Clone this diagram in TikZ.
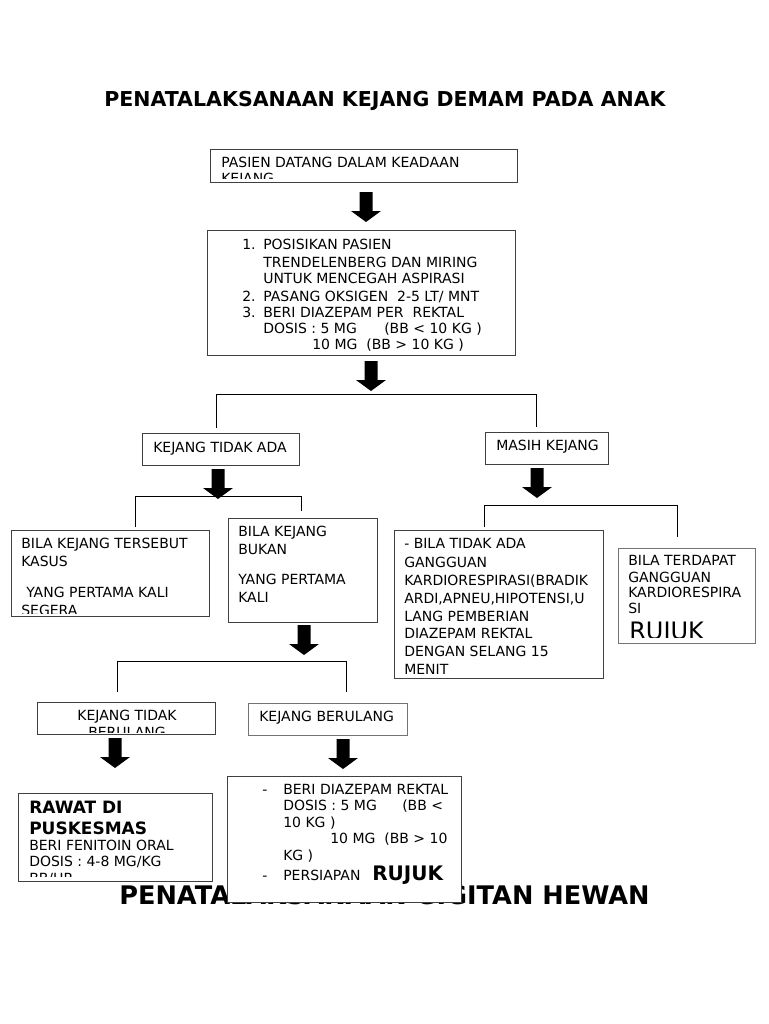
\documentclass[tikz,border=0pt]{standalone}
\usepackage{fontspec}
\setmainfont{DejaVu Sans}
\begin{document}
\begin{tikzpicture}[x=0.75pt,y=-0.75pt,
  box/.style 2 args={draw=black!75, line width=0.9pt, fill=white, rectangle, inner sep=0pt, anchor=north west,
     minimum width=#1*0.75pt, minimum height=#2*0.75pt},
  lbox/.style 2 args={box={#1}{#2}, draw=black!55},
  txt/.style={anchor=base west, inner sep=0pt, font=\fontsize{10.5}{12}\selectfont},
  ctxt/.style={txt, anchor=base},
  bld/.style={anchor=base west, inner sep=0pt, font=\bfseries\fontsize{12.75}{14}\selectfont},
  ttl/.style={anchor=base west, inner sep=0pt, font=\bfseries\fontsize{15.4}{18}\selectfont},
  bttl/.style={anchor=base west, inner sep=0pt, font=\bfseries\fontsize{19.2}{22}\selectfont},
  conn/.style={draw=black, line width=0.7pt},
  blockarrow/.pic={\fill[black] (-6.5,0) -- (6.5,0) -- (6.5,19) -- (15,19) -- (0,30) -- (-15,19) -- (-6.5,19) -- cycle;}
]
\fill[white] (0,0) rectangle (768,1024);
\useasboundingbox (0,0) rectangle (768,1024);

% title
\node[ttl] (title) at (104,106) {PENATALAKSANAAN KEJANG DEMAM PADA ANAK};

% box 1
\node[box={307}{33}] (b1) at (210,149) {};
\node[txt] (b1l1) at (221,167) {PASIEN DATANG DALAM KEADAAN};
\begin{scope}
  \clip (212,150) rectangle (515,178);
  \node[txt] (b1l2) at (221,183) {KEJANG};
\end{scope}

\pic (a1) at (366,192) {blockarrow};

% box 2
\node[box={308}{125}] (b2) at (207,230) {};
\node[txt] (b2n1) at (242,249) {1.};
\node[txt] (b2l1) at (263,249) {POSISIKAN PASIEN};
\node[txt] (b2l2) at (263,267) {TRENDELENBERG DAN MIRING};
\node[txt] (b2l3) at (263,283) {UNTUK MENCEGAH ASPIRASI};
\node[txt] (b2n2) at (242,301) {2.};
\node[txt] (b2l4) at (263,301) {PASANG OKSIGEN\ \ 2-5 LT/ MNT};
\node[txt] (b2n3) at (242,317) {3.};
\node[txt] (b2l5) at (263,317) {BERI DIAZEPAM PER\ \ REKTAL};
\node[txt] (b2l6) at (263,333) {DOSIS : 5 MG};
\node[txt] (b2l6b) at (384,333) {(BB < 10 KG )};
\node[txt] (b2l7) at (312,349) {10 MG\ \ (BB > 10 KG )};

\pic (a2) at (371,361) {blockarrow};

% branch 1
\coordinate (s1l) at (216,428);
\coordinate (s1r) at (536,427);
\draw[conn] (s1l) -- (216,394) -- (536,394) -- (s1r);

% box 3, 4
\node[box={157}{32}] (b3) at (142,433) {};
\node[txt] (b3l1) at (153,452) {KEJANG TIDAK ADA};
\node[box={123}{32}] (b4) at (485,432) {};
\node[txt] (b4l1) at (496,450) {MASIH KEJANG};

\pic (a3) at (218,469) {blockarrow};
\pic (a4) at (537,468) {blockarrow};

% branch 2
\coordinate (s2l) at (135,527);
\coordinate (s2r) at (301,511);
\draw[conn] (s2l) -- (135,496) -- (301,496) -- (s2r);

% branch 3
\coordinate (s3l) at (484,527);
\coordinate (s3r) at (677,537);
\draw[conn] (s3l) -- (484,505) -- (677,505) -- (s3r);

% box 5
\node[box={198}{86}] (b5) at (11,530) {};
\node[txt] (b5l1) at (21,548) {BILA KEJANG TERSEBUT};
\node[txt] (b5l2) at (21,566) {KASUS};
\node[txt] (b5l3) at (26,597) {YANG PERTAMA KALI};
\begin{scope}
  \clip (13,531) rectangle (207,613);
  \node[txt] (b5l4) at (21,615) {SEGERA};
\end{scope}

% box 6
\node[box={149}{104}] (b6) at (228,518) {};
\node[txt] (b6l1) at (238,536) {BILA KEJANG};
\node[txt] (b6l2) at (238,554) {BUKAN};
\node[txt] (b6l3) at (238,584) {YANG PERTAMA};
\node[txt] (b6l4) at (238,602) {KALI};

% box 7
\node[box={209}{148}] (b7) at (394,530) {};
\node[txt] (b7l1) at (404,548) {- BILA TIDAK ADA};
\node[txt] (b7l2) at (404,567) {GANGGUAN};
\node[txt] (b7l3) at (404,585) {KARDIORESPIRASI(BRADIK};
\node[txt] (b7l4) at (404,603) {ARDI,APNEU,HIPOTENSI,U};
\node[txt] (b7l5) at (404,621) {LANG PEMBERIAN};
\node[txt] (b7l6) at (404,638) {DIAZEPAM REKTAL};
\node[txt] (b7l7) at (404,656) {DENGAN SELANG 15};
\node[txt] (b7l8) at (404,674) {MENIT};

% box 8
\node[lbox={137}{95}] (b8) at (618,548) {};
\node[txt] (b8l1) at (628,565) {BILA TERDAPAT};
\node[txt] (b8l2) at (628,582) {GANGGUAN};
\node[txt] (b8l3) at (628,597) {KARDIORESPIRA};
\node[txt] (b8l4) at (628,613) {SI};
\begin{scope}
  \clip (620,615) rectangle (753,637);
  \node[txt, font=\fontsize{18}{20}\selectfont] (b8l5) at (629,639) {RUJUK};
\end{scope}

\pic (a5) at (304,625) {blockarrow};

% branch 4
\coordinate (s4l) at (117,692);
\coordinate (s4r) at (346,692);
\draw[conn] (s4l) -- (117,661) -- (346,661) -- (s4r);

% box 9, 10
\node[box={178}{32}] (b9) at (37,702) {};
\node[ctxt] (b9l1) at (127,720) {KEJANG TIDAK};
\begin{scope}
  \clip (39,703) rectangle (213,732);
  \node[ctxt] (b9l2) at (127,737) {BERULANG};
\end{scope}
\node[lbox={159}{32}] (b10) at (248,703) {};
\node[txt] (b10l1) at (259,721) {KEJANG BERULANG};

\pic (a6) at (115,738) {blockarrow};
\pic (a7) at (343,739) {blockarrow};

% box 11
\node[box={194}{88}] (b11) at (18,793) {};
\node[bld] (b11l1) at (29,813) {RAWAT DI};
\node[bld] (b11l2) at (29,834) {PUSKESMAS};
\node[txt] (b11l3) at (29,850) {BERI FENITOIN ORAL};
\node[txt] (b11l4) at (29,866) {DOSIS : 4-8 MG/KG};
\begin{scope}
  \clip (20,794) rectangle (210,876);
  \node[txt] (b11l5) at (29,883) {BB/HR};
\end{scope}

% bottom title (partly covered)
\node[bttl] (title2) at (119,904) {PENATALAKSANAAN GIGITAN HEWAN};

% box 12
\node[box={234}{126}] (b12) at (227,776) {};
\node[txt] (b12d1) at (262,794) {-};
\node[txt] (b12l1) at (283,794) {BERI DIAZEPAM REKTAL};
\node[txt] (b12l2) at (283,810) {DOSIS : 5 MG};
\node[txt] (b12l2b) at (402,810) {(BB <};
\node[txt] (b12l3) at (283,827) {10 KG )};
\node[txt] (b12l4) at (330,843) {10 MG\ \ (BB > 10};
\node[txt] (b12l5) at (283,860) {KG )};
\node[txt] (b12d2) at (262,880) {-};
\node[txt] (b12l6) at (283,880) {PERSIAPAN};
\node[anchor=base west, inner sep=0pt, font=\bfseries\fontsize{15}{17}\selectfont] (b12l7) at (372,880) {RUJUK};
\end{tikzpicture}
\end{document}
